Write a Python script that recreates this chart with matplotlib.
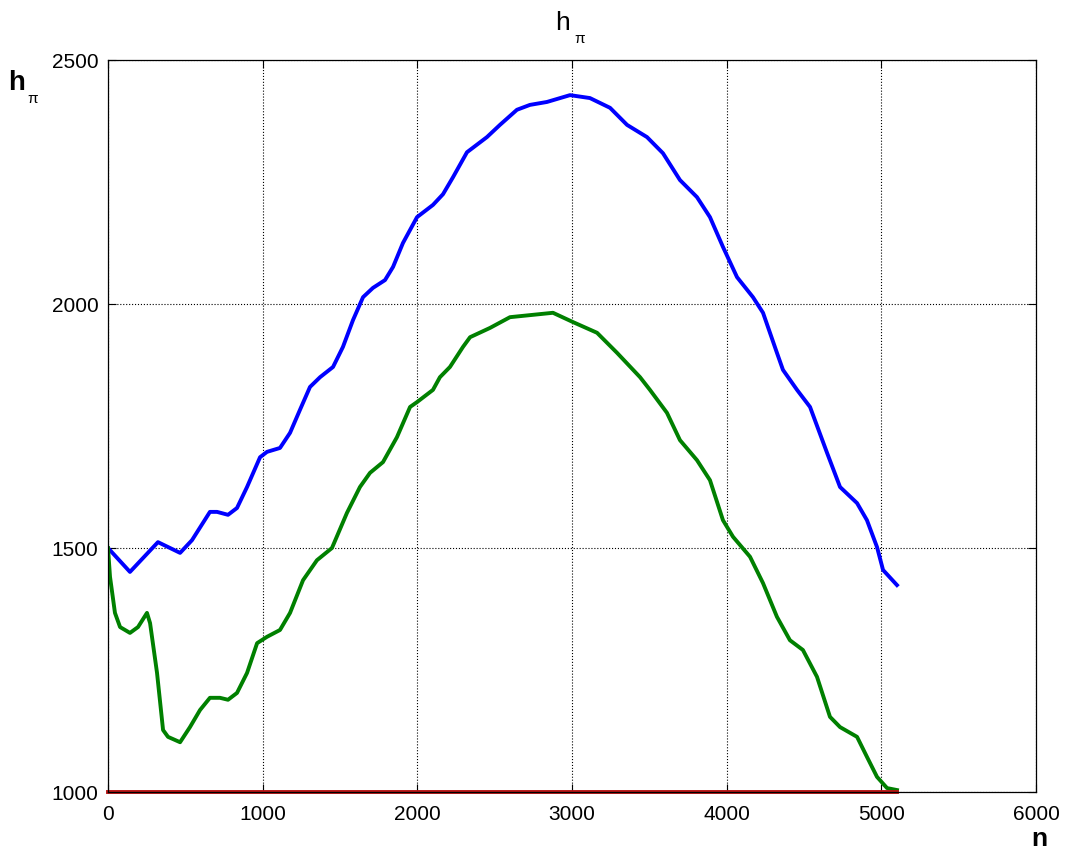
import matplotlib
matplotlib.use('Agg')
import matplotlib.pyplot as plt

plt.rcParams['font.family'] = ['Liberation Sans', 'DejaVu Sans']

# ----------------------------------------------------------------------------
# data
# ----------------------------------------------------------------------------
blue_n = [0, 142, 323, 466, 543, 659, 705, 776, 834, 899, 983, 1028, 1112,
          1177, 1241, 1306, 1371, 1455, 1519, 1584, 1649, 1713, 1791, 1843,
          1907, 1998, 2101, 2166, 2231, 2321, 2450, 2534, 2644, 2728, 2838,
          2987, 3116, 3246, 3356, 3485, 3588, 3698, 3808, 3892, 3976, 4067,
          4170, 4235, 4325, 4364, 4455, 4539, 4649, 4733, 4843, 4907, 4972,
          5011, 5101]
blue_h = [1500, 1451, 1512, 1490, 1516, 1574, 1574, 1568, 1582, 1625, 1686,
          1697, 1705, 1736, 1783, 1830, 1850, 1871, 1912, 1967, 2014, 2033,
          2049, 2076, 2125, 2178, 2203, 2225, 2260, 2311, 2342, 2367, 2398,
          2408, 2414, 2428, 2422, 2402, 2367, 2342, 2309, 2254, 2219, 2178,
          2117, 2055, 2014, 1982, 1900, 1865, 1824, 1789, 1695, 1625, 1592,
          1557, 1502, 1455, 1424]

green_n = [0, 13, 45, 78, 142, 194, 252, 272, 317, 356, 388, 466, 530, 595,
           659, 724, 776, 834, 899, 964, 1028, 1112, 1177, 1261, 1351, 1448,
           1545, 1629, 1694, 1778, 1868, 1953, 1998, 2101, 2146, 2211, 2295,
           2341, 2470, 2599, 2877, 3006, 3162, 3291, 3440, 3504, 3614, 3698,
           3808, 3892, 3976, 4041, 4151, 4235, 4325, 4409, 4493, 4584, 4668,
           4733, 4843, 4907, 4972, 5037, 5101]
green_h = [1500, 1441, 1367, 1338, 1326, 1338, 1367, 1346, 1244, 1127, 1113,
           1102, 1133, 1168, 1193, 1193, 1189, 1203, 1244, 1305, 1318, 1332,
           1367, 1434, 1475, 1500, 1572, 1625, 1654, 1676, 1727, 1789, 1799,
           1824, 1850, 1871, 1912, 1932, 1951, 1973, 1982, 1963, 1941, 1900,
           1850, 1824, 1777, 1721, 1680, 1639, 1557, 1523, 1482, 1428, 1359,
           1311, 1291, 1236, 1154, 1133, 1113, 1072, 1031, 1008, 1004]

red_n = [0, 5100]
red_h = [1000, 1000]

x_ticks = [0, 1000, 2000, 3000, 4000, 5000, 6000]
y_ticks = [1000, 1500, 2000, 2500]

# ----------------------------------------------------------------------------
# plot
# ----------------------------------------------------------------------------
W, H = 1073, 852
fig = plt.figure(figsize=(W / 100, H / 100), dpi=100)
ax = fig.add_axes([108 / W, 1 - 792 / H, 928 / W, 732 / H])

ax.plot(blue_n, blue_h, color=(0, 0, 1), linewidth=2.8)
ax.plot(green_n, green_h, color=(0, 0.5, 0), linewidth=2.8)
ax.plot(red_n, red_h, color=(0.72, 0.08, 0.08), linewidth=2.8, clip_on=False)

ax.set_xlim(0, 6000)
ax.set_ylim(1000, 2500)
ax.set_xticks(x_ticks)
ax.set_yticks(y_ticks)
ax.grid(True, color='black', linestyle=':', linewidth=0.8)
ax.tick_params(direction='in', length=6, top=True, right=True, labelsize=15)
ax.tick_params(axis='x', pad=9)
ax.tick_params(axis='y', pad=7)
for s in ax.spines.values():
  s.set_linewidth(0.9)


def px(x, y):
  return x / W, 1 - y / H


# title  h_pi
fig.text(*px(555, 30), 'h', fontsize=19, va='baseline')
fig.text(*px(574, 43), 'π', fontsize=11, va='baseline')
# y label  h_pi
fig.text(*px(8, 90), 'h', fontsize=20, fontweight='bold', va='baseline')
fig.text(*px(27, 103), 'π', fontsize=11, va='baseline')
# x label  n
fig.text(*px(1031, 846), 'n', fontsize=19, fontweight='bold', va='baseline')

plt.savefig('out.png', dpi=100)
